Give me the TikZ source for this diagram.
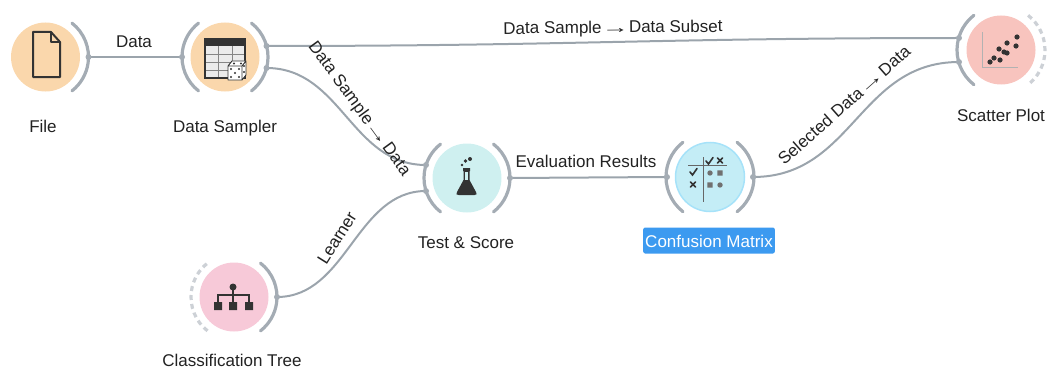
\documentclass[tikz,border=0pt]{standalone}
\usepackage{fontspec}
\usepackage{graphicx}
\setmainfont{Liberation Sans}
\newcommand\myarr{\makebox[1.05em][c]{\scalebox{1.6}[1]{→}}}
\definecolor{orW}{HTML}{FAD7AC}
\definecolor{cyW}{HTML}{CFF0F0}
\definecolor{cmW}{HTML}{C4EDF6}
\definecolor{spW}{HTML}{F8C4BE}
\definecolor{ctW}{HTML}{F7C9D8}
\definecolor{arcgray}{HTML}{A4ACB4}
\definecolor{linkgray}{HTML}{9BA4AC}
\definecolor{icondark}{HTML}{333333}
\definecolor{selblue}{HTML}{3C9AF0}
\definecolor{txt}{HTML}{222222}
\begin{document}
\begin{tikzpicture}[x=1pt,y=-1pt,
  lbl/.style={font=\fontsize{17}{20}\selectfont, text=txt, inner sep=0},
  selbox/.style={font=\fontsize{17}{20}\selectfont, text=white, fill=selblue, rounded corners=2, text height=13, text depth=0, inner xsep=2, inner ysep=6.5},
  wcirc/.style={circle, minimum size=69, inner sep=0, draw=none},
  arcst/.style={draw=arcgray, line width=3.2, line cap=round},
  dasharc/.style={draw=arcgray!55, line width=3.2, dash pattern=on 5 off 4},
  link/.style={draw=linkgray, line width=2},
  port/.style={circle, fill=arcgray, inner sep=0, minimum size=6},
  ink/.style={fill=icondark, draw=none},
  inkline/.style={draw=icondark, line width=1.6, line join=round}]
\useasboundingbox (0,0) rectangle (1049,369);

% widget circles
\node[wcirc, fill=orW] (file) at (45.5,57) {};
\node[wcirc, fill=orW] (dsamp) at (225,57) {};
\node[wcirc, fill=cyW] (test) at (467,178) {};
\node[wcirc, fill=cmW, draw=cyan!35, line width=1.5] (conf) at (710,177) {};
\node[wcirc, fill=spW] (scat) at (1001,50) {};
\node[wcirc, fill=ctW] (tree) at (234,297) {};

% ports
\coordinate (file-o) at (88.5,57);
\coordinate (ds-i) at (182,57);
\coordinate (ds-o1) at (266.5,46);
\coordinate (ds-o2) at (266.5,68);
\coordinate (ts-i1) at (426,165);
\coordinate (ts-i2) at (426,191);
\coordinate (ts-o) at (510,178);
\coordinate (cm-i) at (667,177);
\coordinate (cm-o) at (753,177);
\coordinate (sp-i1) at (959,38);
\coordinate (sp-i2) at (959,62);
\coordinate (ct-o) at (277,297);

% links
\draw[link] (file-o) -- (ds-i);
\draw[link] (ds-o1) .. controls +(300,0) and +(-300,0) .. (sp-i1);
\draw[link] (ds-o2) .. controls +(75,0) and +(-75,0) .. (ts-i1);
\draw[link] (ct-o) .. controls +(70,0) and +(-70,0) .. (ts-i2);
\draw[link] (ts-o) -- (cm-i);
\draw[link] (cm-o) .. controls +(100,0) and +(-100,0) .. (sp-i2);

% arcs
\draw[arcst] (file.center) ++(-52:43) arc[start angle=-52,end angle=52,radius=43];
\draw[arcst] (dsamp.center) ++(128:43) arc[start angle=128,end angle=232,radius=43];
\draw[arcst] (dsamp.center) ++(-52:43) arc[start angle=-52,end angle=52,radius=43];
\draw[arcst] (test.center) ++(128:43) arc[start angle=128,end angle=232,radius=43];
\draw[arcst] (test.center) ++(-52:43) arc[start angle=-52,end angle=52,radius=43];
\draw[arcst] (conf.center) ++(128:44) arc[start angle=128,end angle=232,radius=44];
\draw[arcst] (conf.center) ++(-52:44) arc[start angle=-52,end angle=52,radius=44];
\draw[arcst] (scat.center) ++(128:44) arc[start angle=128,end angle=232,radius=44];
\draw[dasharc] (scat.center) ++(-52:44) arc[start angle=-52,end angle=52,radius=44];
\draw[dasharc] (tree.center) ++(128:43) arc[start angle=128,end angle=232,radius=43];
\draw[arcst] (tree.center) ++(-52:43) arc[start angle=-52,end angle=52,radius=43];

\foreach \p in {file-o,ds-i,ds-o1,ds-o2,ts-i1,ts-i2,ts-o,cm-i,cm-o,sp-i1,sp-i2,ct-o}
  \node[port] at (\p) {};

% File icon
\draw[inkline, line width=2] (33,32) -- (51,32) -- (60,42) -- (60,77) -- (33,77) -- cycle;
\draw[inkline, line width=1.6] (51,32) -- (51,42) -- (60,42);

% Data Sampler icon
\fill[white!92!black] (205,39) rectangle (245,78);
\fill[icondark] (205,39) rectangle (245,46);
\draw[icondark!60, line width=0.8] (218,46) -- (218,78) (232,46) -- (232,78)
  (205,54) -- (245,54) (205,62) -- (245,62) (205,70) -- (245,70);
\draw[icondark, line width=1.4] (205,39) rectangle (245,78);
\filldraw[fill=white, draw=icondark, line width=0.9, line join=round]
  (228,66) -- (232,61) -- (246,61) -- (242,66) -- cycle
  (242,66) -- (246,61) -- (246,75) -- (242,80) -- cycle
  (228,66) rectangle (242,80);
\foreach \d in {(231,69),(235,73),(239,77),(239,69),(231,77),(234,63.5),(241,63.5),(244,66),(244,72)}
  \fill[icondark] \d circle (1.1);

% Test & Score icon
\fill[icondark] (463,168) -- (470,168) -- (470,171) -- (469.5,171) -- (469.5,180) -- (476,192)
  .. controls (477,194.5) .. (474.5,195) -- (458.5,195) .. controls (456,194.5) .. (457,192)
  -- (463.5,180) -- (463.5,171) -- (463,171) -- cycle;
\fill[cyW] (465,172) rectangle (468,180);
\fill[icondark] (462,165) circle (1.4) (465.5,161) circle (1.8) (470,159) circle (2);

% Confusion Matrix icon
\draw[icondark!75, line width=1] (688,165) -- (727,165) (703,157) -- (703,202);
\draw[icondark, line width=1.6, line cap=round] (706,161) -- (708.5,164) -- (713,157.5);
\draw[icondark, line width=1.6, line cap=round] (717.5,158) -- (722.5,163) (717.5,163) -- (722.5,158);
\draw[icondark, line width=1.6, line cap=round] (690,172) -- (692.5,175) -- (697,168.5);
\draw[icondark, line width=1.6, line cap=round] (690.5,182) -- (695.5,187) (690.5,187) -- (695.5,182);
\fill[icondark!70] (710,173) circle (2.7) (720,185) circle (2.7);
\fill[icondark!70] (717.3,170.3) rectangle (722.7,175.7) (707.3,182.3) rectangle (712.7,187.7);

% Scatter Plot icon
\draw[gray!60, line width=1] (982,32) -- (982,68) -- (1018,68);
\foreach \d in {(990,62),(994,58),(1000,60),(999,49),(1007,53),(1007,43),(1016,46),(1017,37),(1004,52)}
  \fill[icondark] \d circle (2.6);

% Classification Tree icon
\draw[icondark, line width=1.6] (233,287) -- (233,295) (218,302) -- (218,295) -- (249,295) -- (249,302) (233,295) -- (233,302);
\fill[icondark] (233,287) circle (3.5);
\fill[icondark] (214,302) rectangle (222,310) (229,302) rectangle (237,310) (245,302) rectangle (253,310);

% link labels
\node[lbl, anchor=base] (l-data) at (134,48) {Data};
\node[lbl, anchor=base, rotate=0.6] (l-dsub) at (613,33) {Data Sample \myarr\ Data Subset};
\node[lbl, rotate=-54] (l-dsd) at (359,109) {Data Sample \myarr\ Data};
\node[lbl, rotate=58] (l-learn) at (337,238) {Learner};
\node[lbl, anchor=base] (l-eval) at (586,167) {Evaluation Results};
\node[lbl, rotate=41.5] (l-sel) at (844,105) {Selected Data \myarr\ Data};

% widget titles
\node[lbl, anchor=base] (t-file) at (43,132) {File};
\node[lbl, anchor=base] (t-ds) at (225,132) {Data Sampler};
\node[lbl, anchor=base] (t-ts) at (466,248) {Test \& Score};
\node[selbox, anchor=base] (t-cm) at (709,247) {Confusion Matrix};
\node[lbl, anchor=base] (t-sp) at (1001,121) {Scatter Plot};
\node[lbl, anchor=base] (t-ct) at (232,366) {Classification Tree};
\end{tikzpicture}
\end{document}
